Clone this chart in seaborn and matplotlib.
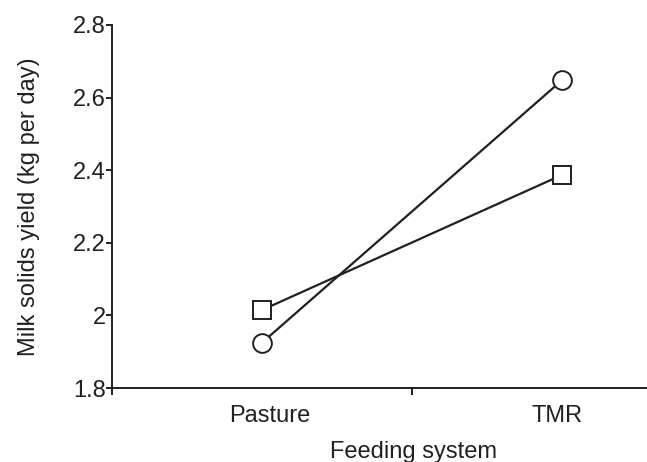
import matplotlib
matplotlib.use("Agg")
import matplotlib.pyplot as plt
from matplotlib.ticker import FixedLocator, FuncFormatter
import pandas as pd
import seaborn as sns

# values
feeding_systems = ["Pasture", "TMR"]
circle_yield = [1.925, 2.648]   # open circles
square_yield = [2.015, 2.387]   # open squares
y_ticks = [1.8, 2.0, 2.2, 2.4, 2.6, 2.8]

df = pd.DataFrame({
    "system": feeding_systems * 2,
    "yield": circle_yield + square_yield,
    "group": ["circle"] * 2 + ["square"] * 2,
})

sns.set_style("ticks")
plt.rcParams["font.family"] = ["Liberation Sans", "DejaVu Sans"]

ink = "#231f20"
fs = 17
fig = plt.figure(figsize=(6.47, 4.62), dpi=100)
ax = fig.add_axes([0.1731, 0.160, 0.8269, 0.786])

sns.lineplot(
    data=df, x="system", y="yield", style="group",
    markers={"circle": "o", "square": "s"}, dashes=False,
    color=ink, linewidth=1.6, markersize=13.5,
    markerfacecolor="white", markeredgecolor=ink, markeredgewidth=1.4,
    legend=False, ax=ax,
)

ax.set_xlim(-0.5, 1.283)
ax.set_ylim(1.8, 2.8)
ax.set_yticks(y_ticks)
ax.yaxis.set_major_formatter(FuncFormatter(lambda v, _: f"{v:g}"))

# tick marks at the category boundaries, labels under the categories
ax.xaxis.set_major_locator(FixedLocator([-0.5, 0.5]))
ax.xaxis.set_minor_locator(FixedLocator([0.027, 0.983]))
ax.set_xticklabels([])
ax.set_xticklabels(feeding_systems, minor=True)
ax.tick_params(axis="x", which="major", length=5, width=1.4, color=ink)
ax.tick_params(axis="x", which="minor", length=0, pad=12, labelsize=fs, labelcolor=ink)
ax.tick_params(axis="y", length=4, width=1.4, color=ink, pad=0.5, labelsize=fs, labelcolor=ink)

ax.set_xlabel("Feeding system", fontsize=fs, color=ink)
ax.xaxis.set_label_coords(0.563, -0.146)
ax.set_ylabel("Milk solids yield (kg per day)", fontsize=fs, color=ink, labelpad=24)

for side in ["top", "right"]:
    ax.spines[side].set_visible(False)
for side in ["left", "bottom"]:
    ax.spines[side].set_linewidth(1.4)
    ax.spines[side].set_color(ink)

fig.savefig("out.png", dpi=100)
